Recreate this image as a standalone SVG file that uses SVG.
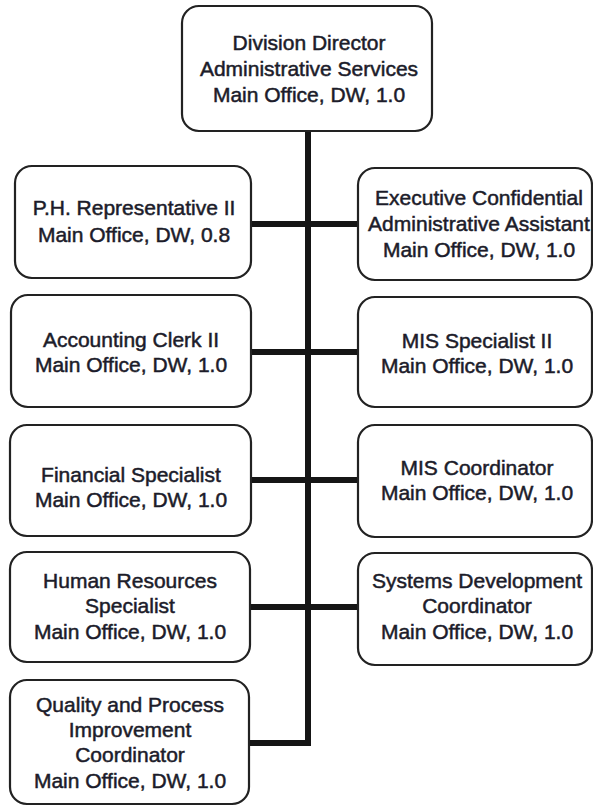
<svg xmlns="http://www.w3.org/2000/svg" width="593" height="806" viewBox="0 0 593 806">
<style>
.box{fill:#fff;stroke:#222;stroke-width:2.2}
.t{font-family:"Liberation Sans",Arial,sans-serif;font-size:21px;fill:#1c1c2a;stroke:#1c1c2a;stroke-width:0.5;text-anchor:middle}
.c{stroke:#151515;stroke-width:6;fill:none}
</style>
<rect width="593" height="806" fill="#fff"/>
<g id="connectors">
<path class="c" d="M308,131 V743 H249"/>
<path class="c" d="M251,224 H358"/>
<path class="c" d="M251,352 H358"/>
<path class="c" d="M251,480 H358"/>
<path class="c" d="M251,607 H358"/>
</g>
<g id="director">
<rect class="box" x="182" y="6" width="250" height="125" rx="17"/>
<text class="t" x="309" y="50">Division Director</text>
<text class="t" x="309" y="76">Administrative Services</text>
<text class="t" x="309" y="102">Main Office, DW, 1.0</text>
</g>
<g id="ph-rep">
<rect class="box" x="15" y="166" width="236" height="112" rx="17"/>
<text class="t" x="134" y="215">P.H. Representative II</text>
<text class="t" x="134" y="242">Main Office, DW, 0.8</text>
</g>
<g id="exec-assistant">
<rect class="box" x="358" y="168" width="234" height="112" rx="17"/>
<text class="t" x="479" y="205">Executive Confidential</text>
<text class="t" x="479" y="231">Administrative Assistant</text>
<text class="t" x="479" y="257">Main Office, DW, 1.0</text>
</g>
<g id="accounting">
<rect class="box" x="11" y="295" width="240" height="112" rx="17"/>
<text class="t" x="131" y="347">Accounting Clerk II</text>
<text class="t" x="131" y="372">Main Office, DW, 1.0</text>
</g>
<g id="mis-specialist">
<rect class="box" x="358" y="297" width="234" height="110" rx="17"/>
<text class="t" x="477" y="348">MIS Specialist II</text>
<text class="t" x="477" y="373">Main Office, DW, 1.0</text>
</g>
<g id="financial">
<rect class="box" x="10" y="425" width="241" height="111" rx="17"/>
<text class="t" x="131" y="482">Financial Specialist</text>
<text class="t" x="131" y="507">Main Office, DW, 1.0</text>
</g>
<g id="mis-coordinator">
<rect class="box" x="358" y="425" width="234" height="112" rx="17"/>
<text class="t" x="477" y="475">MIS Coordinator</text>
<text class="t" x="477" y="500">Main Office, DW, 1.0</text>
</g>
<g id="hr">
<rect class="box" x="10" y="552" width="240" height="110" rx="17"/>
<text class="t" x="130" y="588">Human Resources</text>
<text class="t" x="130" y="613">Specialist</text>
<text class="t" x="130" y="639">Main Office, DW, 1.0</text>
</g>
<g id="systems-dev">
<rect class="box" x="358" y="553" width="234" height="112" rx="17"/>
<text class="t" x="477" y="588">Systems Development</text>
<text class="t" x="477" y="613">Coordinator</text>
<text class="t" x="477" y="639">Main Office, DW, 1.0</text>
</g>
<g id="quality">
<rect class="box" x="10" y="680" width="239" height="124" rx="17"/>
<text class="t" x="130" y="712">Quality and Process</text>
<text class="t" x="130" y="737">Improvement</text>
<text class="t" x="130" y="762">Coordinator</text>
<text class="t" x="130" y="788">Main Office, DW, 1.0</text>
</g>
</svg>
